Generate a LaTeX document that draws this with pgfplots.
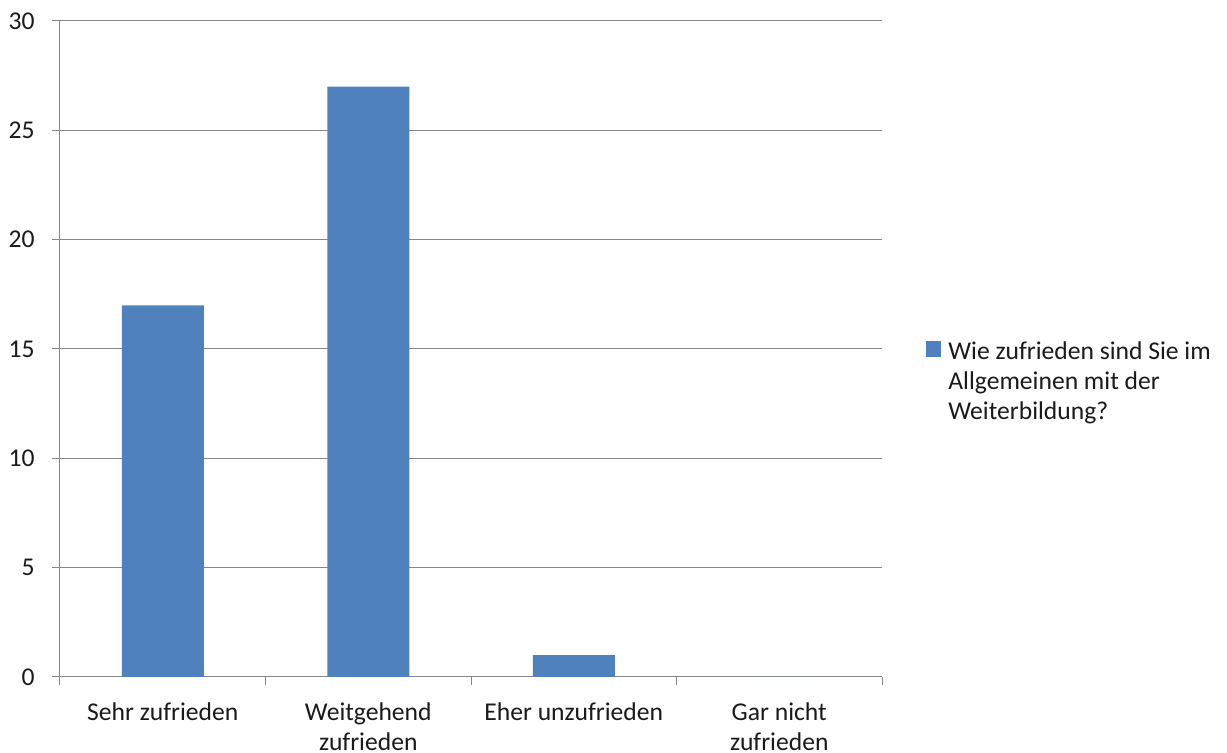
\documentclass[border=0pt]{standalone}
\usepackage{pgfplots}
\pgfplotsset{compat=1.18}
\usepackage{fontspec}
\setmainfont{Carlito}
\definecolor{barblue}{HTML}{4F81BD}
\definecolor{gridgray}{HTML}{868686}
\definecolor{txt}{HTML}{1A1A1A}
\begin{document}
\begin{tikzpicture}
\begin{axis}[
  at={(0pt,0pt)}, anchor=south west,
  scale only axis,
  width=411pt, height=328pt,
  ybar, bar width=41pt,
  xmin=-0.5, xmax=3.5,
  ymin=0, ymax=30,
  ytick={0,5,...,30},
  xtick={-0.5,0.5,1.5,2.5,3.5},
  x tick label as interval,
  xticklabels={Sehr zufrieden,{Weitgehend\\zufrieden},Eher unzufrieden,{Gar nicht\\zufrieden}},
  tick align=outside,
  major tick length=4pt,
  tick style={gridgray, line width=0.5pt},
  axis x line*=bottom,
  axis y line*=left,
  axis line style={gridgray, line width=0.5pt, -},
  ymajorgrids,
  major grid style={gridgray, line width=0.5pt},
  /pgf/number format/assume math mode=true,
  every tick label/.append style={font=\fontsize{12.8}{15}\selectfont, text=txt},
  yticklabel style={inner sep=0pt, xshift=-8.5pt},
  xticklabel style={align=center, inner sep=0pt, anchor=north, yshift=-8.5pt},
  legend style={at={(1.0535,0.5125)}, anchor=north west, draw=none, fill=none,
    inner sep=0pt, font=\fontsize{12.8}{15}\selectfont, text=txt,
    nodes={inner sep=0pt}, column sep=3.5pt},
  legend cell align=left,
  legend image code/.code={\fill[#1, draw=none] (0pt,-2.3pt) rectangle (7.5pt,5.7pt);},
]
\addplot[fill=barblue, draw=none] coordinates {(0,17) (1,27) (2,1) (3,0)};
\addlegendentry{\parbox[t]{150pt}{\raggedright\baselineskip=15pt Wie zufrieden sind Sie im\\Allgemeinen mit der\\Weiterbildung?}}
\end{axis}
\pgfresetboundingbox
\path[use as bounding box] (-30pt,-38pt) rectangle (583.5pt,338.5pt);
\end{tikzpicture}
\end{document}
